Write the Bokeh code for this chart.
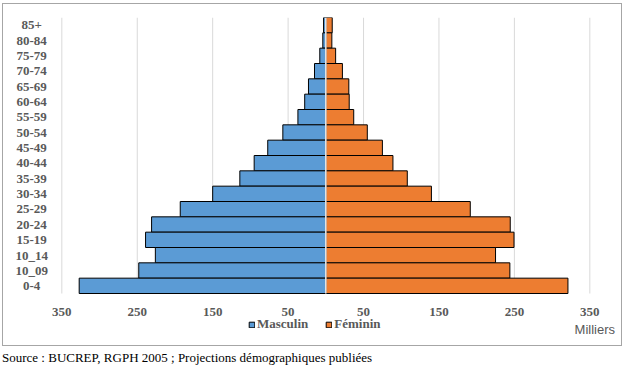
from bokeh.plotting import figure
from bokeh.models import (ColumnDataSource, Range1d, Legend, LegendItem, Div)
from bokeh.layouts import column
from bokeh.core.properties import value
from bokeh.embed import file_html
from bokeh.resources import INLINE

# ---- data (top to bottom as in the chart) ----
ages = ["85+", "80-84", "75-79", "70-74", "65-69", "60-64", "55-59", "50-54",
        "45-49", "40-44", "35-39", "30-34", "25-29", "20-24", "15-19",
        "10_14", "10_09", "0-4"]
male = [3, 4, 8, 15, 23, 28, 37, 57, 77, 95, 114, 150, 193, 231, 239, 226, 248, 327]
female = [8.5, 8, 13, 22, 30.5, 31, 37, 55, 75, 89, 108, 140, 191.5, 244.5, 249.5, 225, 244, 321]
series = ["Masculin", "Féminin"]
ticks = [-350, -250, -150, -50, 50, 150, 250, 350]
tick_labels = ["350", "250", "150", "50", "50", "150", "250", "350"]
unit_label = "Milliers"
source_text = "Source : BUCREP, RGPH 2005 ; Projections démographiques publiées"

BLUE = "#5B9BD5"
ORANGE = "#ED7D31"
GREY_TXT = "#595959"
SERIF = "Liberation Serif"

n = len(ages)
ypos = [n - 1 - i for i in range(n)]          # 0-4 at the bottom
src = ColumnDataSource(dict(y=ypos, age=ages, m=[-v for v in male], f=female))
tick_src = ColumnDataSource(dict(x=ticks, label=tick_labels))

p = figure(width=620, height=343,
           x_range=Range1d(-420.7, 386.7),
           y_range=Range1d(-3.826, 17.5),
           output_backend="svg", toolbar_location=None,
           x_axis_location=None, y_axis_location=None,
           min_border_left=5, min_border_right=6,
           min_border_top=13, min_border_bottom=3,
           styles={"border": "1px solid #a6a6a6"})
p.margin = (3, 0, 0, 2)
p.outline_line_color = None
p.background_fill_color = "white"
p.border_fill_color = "white"
p.xgrid.visible = False
p.ygrid.visible = False

# vertical grid lines at tick positions, spanning the bar area only
p.segment(x0="x", x1="x", y0=-0.5, y1=n - 0.5, source=tick_src,
          line_color="#d9d9d9", line_width=1, level="underlay")

# bars
rm = p.hbar(y="y", left="m", right=0, height=1.0, source=src,
            fill_color=BLUE, line_color="black", line_width=1)
rf = p.hbar(y="y", left=0, right="f", height=1.0, source=src,
            fill_color=ORANGE, line_color="black", line_width=1)

# light center line
p.segment(x0=0, x1=0, y0=-0.5, y1=n - 0.5, line_color="#f4f4f4", line_width=1.5)

# category labels
p.text(x=-390, y="y", text="age", source=src,
       text_font=value(SERIF), text_font_style="bold", text_font_size="13px",
       text_color=GREY_TXT, text_align="center", text_baseline="middle")

# x tick labels (absolute values)
p.text(x="x", y=-0.5, text="label", source=tick_src, y_offset=18,
       text_font=value(SERIF), text_font_style="bold", text_font_size="13px",
       text_color=GREY_TXT, text_align="center", text_baseline="middle")

# unit label
p.text(x=[ticks[-1]], y=[-0.5], text=[unit_label], x_offset=5, y_offset=36,
       text_font=value("Liberation Sans"), text_font_size="13px",
       text_color=GREY_TXT, text_align="center", text_baseline="middle")

# legend
legend = Legend(items=[LegendItem(label=series[0], renderers=[rm]),
                       LegendItem(label=series[1], renderers=[rf])],
                orientation="horizontal", location=(240, 12),
                glyph_width=7, glyph_height=7, label_standoff=2, spacing=17,
                padding=0, margin=0, border_line_color=None,
                background_fill_alpha=0, label_height=14,
                label_text_font=SERIF, label_text_font_style="bold",
                label_text_font_size="13px", label_text_color=GREY_TXT)
p.add_layout(legend, "center")

div = Div(text=source_text, width=613,
          styles={"font-family": SERIF, "font-size": "13px", "color": "black"})
div.margin = (3, 0, 0, 2)

layout = column(p, div, spacing=0)
open("out.html", "w").write(file_html(layout, INLINE))
